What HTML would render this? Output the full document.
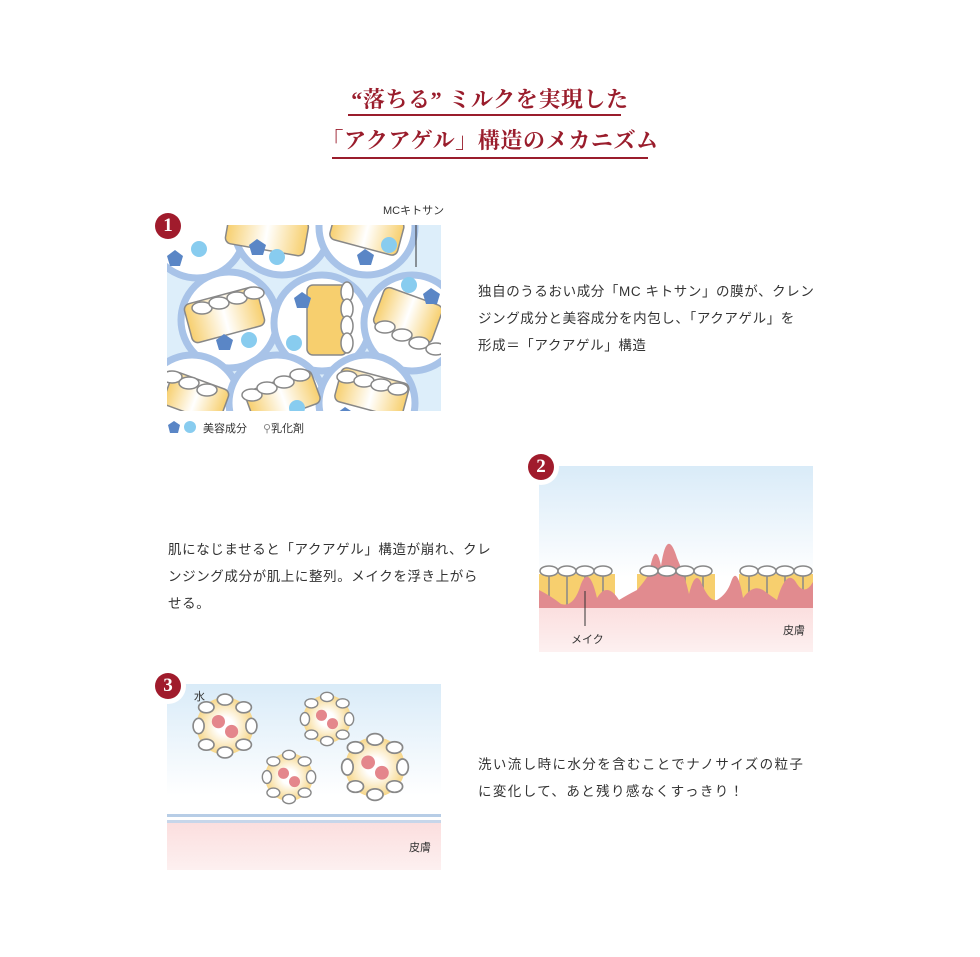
<!DOCTYPE html>
<html><head><meta charset="utf-8"><style>
body{margin:0;width:980px;height:957px;background:#fff;position:relative;overflow:hidden;font-family:"Liberation Sans","Noto Sans CJK JP",sans-serif;color:#333}
.t{position:absolute;font-family:"Liberation Serif","Noto Serif CJK SC",serif;color:#9a1d2c;font-size:22px;font-weight:bold;white-space:nowrap;text-align:center;left:0;width:980px;letter-spacing:0.6px}
.u{position:absolute;height:2px;background:#9a1d2c}
.p{position:absolute;font-size:13.5px;line-height:27px;white-space:nowrap;color:#333;letter-spacing:0.6px}
.b{position:absolute;width:26px;height:26px;border-radius:50%;background:#a01b2c;color:#fff;font-family:"Liberation Serif",serif;font-weight:bold;font-size:19px;text-align:center;line-height:26px;box-shadow:0 0 0 5px #fff}
.s{position:absolute;font-size:11px;color:#333;white-space:nowrap}
svg{position:absolute}
</style></head><body>
<div class="t" style="top:83px">“落ちる” ミルクを実現した</div>
<div class="u" style="left:348px;top:114px;width:273px"></div>
<div class="t" style="top:124px">「アクアゲル」構造のメカニズム</div>
<div class="u" style="left:332px;top:157px;width:316px"></div>

<svg style="left:167px;top:225px" width="274" height="186" viewBox="0 0 274 186">
<defs><linearGradient id="g1" x1="0" x2="1"><stop offset="0" stop-color="#f7cf6e"/><stop offset="0.5" stop-color="#fff"/><stop offset="1" stop-color="#f7cf6e"/></linearGradient><clipPath id="c1"><rect width="274" height="186"/></clipPath></defs>
<g clip-path="url(#c1)">
<rect width="274" height="186" fill="#ddeefa"/>
<g stroke="#a8c3e8" stroke-width="7" fill="#fff">
<circle cx="30" cy="5" r="48"/><circle cx="115" cy="2" r="48"/><circle cx="200" cy="2" r="48"/>
<circle cx="62" cy="95" r="48"/><circle cx="155" cy="98" r="48"/><circle cx="245" cy="98" r="48"/>
<circle cx="25" cy="178" r="48"/><circle cx="110" cy="178" r="48"/><circle cx="200" cy="178" r="48"/>
</g>
<g fill="url(#g1)" stroke="#888" stroke-width="1.5">
<rect x="20" y="70" width="75" height="40" rx="6" transform="rotate(-15 57 90)"/>
<rect x="140" y="60" width="40" height="70" rx="6" fill="#f7cf6e"/>
<rect x="210" y="70" width="62" height="40" rx="6" transform="rotate(20 240 90)"/>
<rect x="0" y="155" width="60" height="35" rx="6" transform="rotate(20 30 170)"/>
<rect x="80" y="155" width="70" height="35" rx="6" transform="rotate(-20 115 170)"/>
<rect x="170" y="150" width="70" height="35" rx="6" transform="rotate(15 205 167)"/>
<rect x="60" y="-10" width="80" height="35" rx="6" transform="rotate(10 100 7)"/>
<rect x="165" y="-12" width="70" height="35" rx="6" transform="rotate(15 200 5)"/>
</g>
<g fill="#fff" stroke="#888" stroke-width="1.5">
<ellipse cx="35" cy="83" rx="10" ry="6"/><ellipse cx="52" cy="78" rx="10" ry="6"/><ellipse cx="70" cy="73" rx="10" ry="6"/><ellipse cx="87" cy="68" rx="10" ry="6"/>
<ellipse cx="180" cy="67" rx="6" ry="10"/><ellipse cx="180" cy="84" rx="6" ry="10"/><ellipse cx="180" cy="101" rx="6" ry="10"/><ellipse cx="180" cy="118" rx="6" ry="10"/>
<ellipse cx="218" cy="102" rx="10" ry="6"/><ellipse cx="235" cy="110" rx="10" ry="6"/><ellipse cx="252" cy="118" rx="10" ry="6"/><ellipse cx="269" cy="124" rx="10" ry="6"/>
<ellipse cx="5" cy="152" rx="10" ry="6"/><ellipse cx="22" cy="158" rx="10" ry="6"/><ellipse cx="40" cy="165" rx="10" ry="6"/>
<ellipse cx="85" cy="170" rx="10" ry="6"/><ellipse cx="100" cy="163" rx="10" ry="6"/><ellipse cx="117" cy="157" rx="10" ry="6"/><ellipse cx="133" cy="150" rx="10" ry="6"/>
<ellipse cx="180" cy="152" rx="10" ry="6"/><ellipse cx="197" cy="156" rx="10" ry="6"/><ellipse cx="214" cy="160" rx="10" ry="6"/><ellipse cx="231" cy="164" rx="10" ry="6"/>
</g>
<g fill="#88ccef"><circle cx="32" cy="24" r="8"/><circle cx="110" cy="32" r="8"/><circle cx="222" cy="20" r="8"/><circle cx="82" cy="115" r="8"/><circle cx="127" cy="118" r="8"/><circle cx="242" cy="60" r="8"/><circle cx="130" cy="183" r="8"/></g>
<g fill="#5a86c6"><polygon points="8,25 16,31 13,41 3,41 0,31"/><polygon points="90,14 99,20 96,30 85,30 82,20"/><polygon points="198,24 207,30 204,40 193,40 190,30"/><polygon points="135,67 144,73 141,83 130,83 127,73"/><polygon points="57,109 66,115 63,125 52,125 49,115"/><polygon points="264,63 273,69 270,79 259,79 256,69"/><polygon points="178,182 187,188 184,198 173,198 170,188"/></g>
<line x1="249" y1="0" x2="249" y2="42" stroke="#333" stroke-width="1"/>
</g></svg>
<div class="s" style="left:383px;top:202px">MCキトサン</div>
<div class="b" style="left:155px;top:213px">1</div>
<svg style="left:167px;top:420px" width="30" height="14"><polygon points="7,1 13,5 11,13 3,13 1,5" fill="#5a86c6"/><circle cx="23" cy="7" r="6" fill="#88ccef"/></svg>
<div class="s" style="left:203px;top:420px">美容成分</div>
<div class="s" style="left:263px;top:420px"><span style="color:#888">⚲</span>乳化剤</div>
<div class="p" style="left:478px;top:278px">独自のうるおい成分「MC キトサン」の膜が、クレン<br>ジング成分と美容成分を内包し、「アクアゲル」を<br>形成＝「アクアゲル」構造</div>

<svg style="left:539px;top:466px" width="274" height="186" viewBox="0 0 274 186">
<defs><linearGradient id="sk" x1="0" y1="0" x2="0" y2="1"><stop offset="0" stop-color="#d9ebf8"/><stop offset="0.6" stop-color="#fff"/></linearGradient><linearGradient id="sk2" x1="0" y1="0" x2="0" y2="1"><stop offset="0" stop-color="#fbdede"/><stop offset="1" stop-color="#fdf0f0"/></linearGradient></defs>
<rect width="274" height="186" fill="url(#sk)"/>
<rect y="140" width="274" height="46" fill="url(#sk2)"/>
<g fill="#f7cf6e"><rect x="0" y="108" width="76" height="32"/><rect x="98" y="108" width="78" height="32"/><rect x="200" y="108" width="74" height="32"/></g>
<g stroke="#888" stroke-width="1.5"><line x1="10" y1="110" x2="10" y2="140"/><line x1="28" y1="110" x2="28" y2="140"/><line x1="46" y1="110" x2="46" y2="140"/><line x1="64" y1="110" x2="64" y2="140"/><line x1="110" y1="110" x2="110" y2="140"/><line x1="128" y1="110" x2="128" y2="140"/><line x1="146" y1="110" x2="146" y2="140"/><line x1="164" y1="110" x2="164" y2="140"/><line x1="210" y1="110" x2="210" y2="140"/><line x1="228" y1="110" x2="228" y2="140"/><line x1="246" y1="110" x2="246" y2="140"/><line x1="264" y1="110" x2="264" y2="140"/></g>
<path d="M0,124 Q12,130 22,138 Q35,142 42,118 Q50,98 58,132 Q68,115 80,134 Q90,128 98,124 Q106,115 110,108 Q116,72 122,100 Q128,60 138,92 Q146,110 150,128 Q156,104 162,116 Q170,136 178,134 Q188,128 192,116 Q198,98 204,132 Q214,118 224,124 Q232,130 238,134 Q248,100 258,118 Q266,130 274,116 L274,142 L0,142 Z" fill="#e18b8f"/>
<g fill="#fff" stroke="#888" stroke-width="1.5"><ellipse cx="10" cy="105" rx="9" ry="5"/><ellipse cx="28" cy="105" rx="9" ry="5"/><ellipse cx="46" cy="105" rx="9" ry="5"/><ellipse cx="64" cy="105" rx="9" ry="5"/><ellipse cx="110" cy="105" rx="9" ry="5"/><ellipse cx="128" cy="105" rx="9" ry="5"/><ellipse cx="146" cy="105" rx="9" ry="5"/><ellipse cx="164" cy="105" rx="9" ry="5"/><ellipse cx="210" cy="105" rx="9" ry="5"/><ellipse cx="228" cy="105" rx="9" ry="5"/><ellipse cx="246" cy="105" rx="9" ry="5"/><ellipse cx="264" cy="105" rx="9" ry="5"/></g>
<line x1="46" y1="125" x2="46" y2="160" stroke="#333"/>
</svg>
<div class="s" style="left:571px;top:631px">メイク</div>
<div class="s" style="left:783px;top:622px">皮膚</div>
<div class="b" style="left:528px;top:454px">2</div>
<div class="p" style="left:168px;top:536px">肌になじませると「アクアゲル」構造が崩れ、クレ<br>ンジング成分が肌上に整列。メイクを浮き上がら<br>せる。</div>

<svg style="left:167px;top:684px" width="274" height="186" viewBox="0 0 274 186">
<defs><radialGradient id="rg"><stop offset="0.3" stop-color="#fff"/><stop offset="1" stop-color="#f7d78a"/></radialGradient>
<g id="ball"><circle r="26" fill="url(#rg)"/><g fill="#fff" stroke="#888" stroke-width="1.5"><ellipse cx="0" cy="-24" rx="7" ry="5"/><ellipse cx="17" cy="-17" rx="7" ry="5"/><ellipse cx="24" cy="0" rx="5" ry="7"/><ellipse cx="17" cy="17" rx="7" ry="5"/><ellipse cx="0" cy="24" rx="7" ry="5"/><ellipse cx="-17" cy="17" rx="7" ry="5"/><ellipse cx="-24" cy="0" rx="5" ry="7"/><ellipse cx="-17" cy="-17" rx="7" ry="5"/></g><circle cx="-6" cy="-4" r="6" fill="#e4868c"/><circle cx="6" cy="5" r="6" fill="#e4868c"/></g></defs>
<rect width="274" height="186" fill="url(#sk)"/>
<rect y="130" width="274" height="3" fill="#b7cde6"/>
<rect y="138" width="274" height="48" fill="url(#sk2)"/>
<rect y="136" width="274" height="3" fill="#c7d6ea"/>
<use href="#ball" transform="translate(58,42) scale(1.1)"/>
<use href="#ball" transform="translate(160,35) scale(0.92)"/>
<use href="#ball" transform="translate(122,93) scale(0.92)"/>
<use href="#ball" transform="translate(208,83) scale(1.15)"/>
</svg>
<div class="s" style="left:194px;top:688px">水</div>
<div class="s" style="left:409px;top:839px">皮膚</div>
<div class="b" style="left:155px;top:673px">3</div>
<div class="p" style="left:478px;top:751px;letter-spacing:1.4px">洗い流し時に水分を含むことでナノサイズの粒子<br>に変化して、あと残り感なくすっきり！</div>
</body></html>
